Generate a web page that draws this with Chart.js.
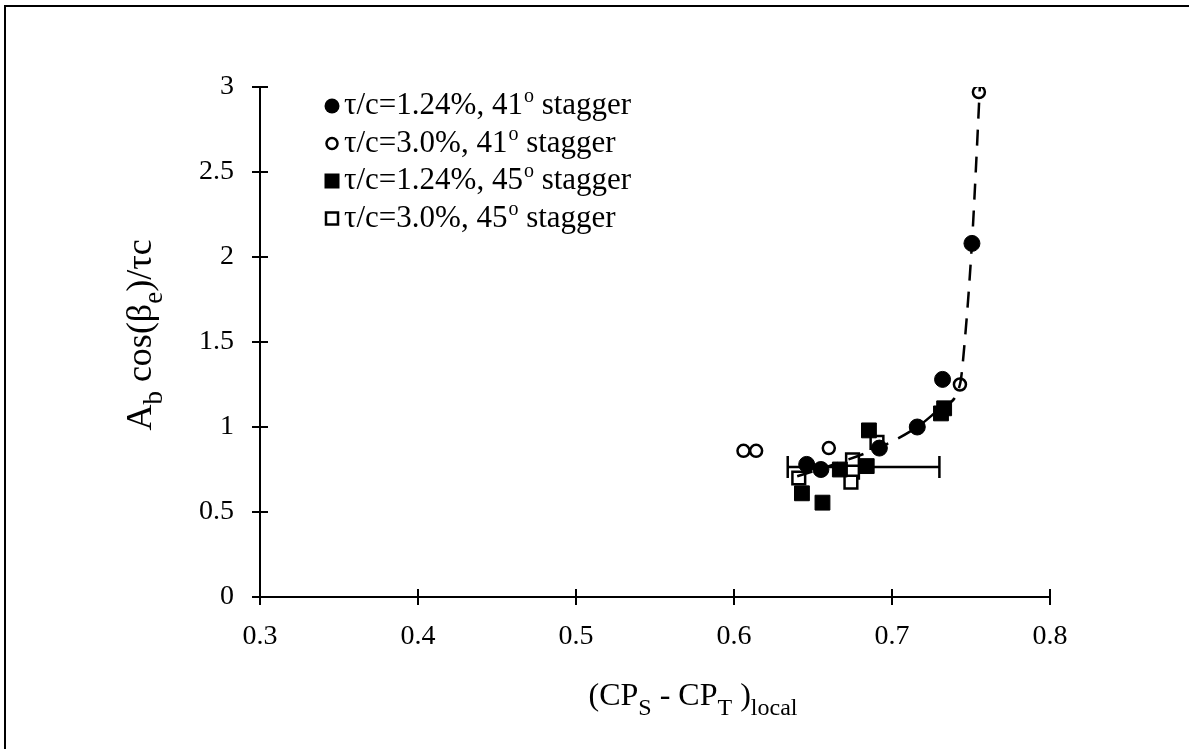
<!DOCTYPE html>
<html>
<head>
<meta charset="utf-8">
<script src="https://cdn.jsdelivr.net/npm/chart.js@4.4.0/dist/chart.umd.min.js"></script>
<style>
  html, body { margin: 0; padding: 0; background: #fff; }
</style>
</head>
<body>
<canvas id="chart" width="1189" height="749"></canvas>
<script>
const FONT = '"Liberation Serif", "Times New Roman", serif';

// tau/c = 1.24%, 41 deg stagger (filled circles)
const filled41X = [0.646, 0.655, 0.692, 0.716, 0.732, 0.7506];
const filled41Y = [0.78, 0.75, 0.876, 1.00, 1.28, 2.08];
// tau/c = 3.0%, 41 deg stagger (open circles)
const open41X = [0.606, 0.614, 0.660, 0.743, 0.755];
const open41Y = [0.86, 0.86, 0.876, 1.25, 2.97];
// tau/c = 1.24%, 45 deg stagger (filled squares)
const filled45X = [0.643, 0.656, 0.667, 0.684, 0.6854, 0.731, 0.733];
const filled45Y = [0.61, 0.555, 0.75, 0.77, 0.98, 1.08, 1.11];
// tau/c = 3.0%, 45 deg stagger (open squares)
const open45X = [0.641, 0.675, 0.675, 0.674, 0.6905];
const open45Y = [0.70, 0.806, 0.735, 0.676, 0.91];

// dashed trend curve
const trendX = [0.640, 0.660, 0.692, 0.716, 0.732, 0.743, 0.746, 0.7506, 0.753, 0.756];
const trendY = [0.71, 0.77, 0.88, 1.00, 1.12, 1.25, 1.50, 2.08, 2.50, 3.08];

// horizontal error bar: [y, xLow, xHigh]
const errorBar = [0.765, 0.634, 0.730];

const yTickLabels = ['0', '0.5', '1', '1.5', '2', '2.5', '3'];
const xTickLabels = ['0.3', '0.4', '0.5', '0.6', '0.7', '0.8'];

const legendLabels = [
  ['τ/c=1.24%, 41', 'o', ' stagger'],
  ['τ/c=3.0%, 41', 'o', ' stagger'],
  ['τ/c=1.24%, 45', 'o', ' stagger'],
  ['τ/c=3.0%, 45', 'o', ' stagger']
];

const xTitle = [['(CP', 0], ['S', 1], [' - CP', 0], ['T', 1], [' )', 0], ['local', 1]];
const yTitle = [['A', 0], ['b', 1], [' cos(β', 0], ['e', 1], [')/τc', 0]];

function pts(xs, ys) {
  return xs.map((x, i) => ({ x: x, y: ys[i] }));
}

// draw text made of normal (0) and subscript (1) runs, centred on cx
function drawRuns(ctx, runs, cx, cy, size) {
  const fontFor = k => (k === 0 ? size : Math.round(size * 0.74)) + 'px ' + FONT;
  let total = 0;
  for (const [t, k] of runs) { ctx.font = fontFor(k); total += ctx.measureText(t).width; }
  let x = cx - total / 2;
  ctx.textBaseline = 'alphabetic';
  ctx.textAlign = 'left';
  for (const [t, k] of runs) {
    ctx.font = fontFor(k);
    ctx.fillText(t, x, cy + (k === 1 ? size * 0.3 : 0));
    x += ctx.measureText(t).width;
  }
}

function drawMarker(ctx, style, x, y) {
  ctx.lineWidth = 2.5;
  ctx.strokeStyle = '#000';
  ctx.beginPath();
  if (style === 0) { ctx.arc(x, y, 7.5, 0, Math.PI * 2); ctx.fillStyle = '#000'; ctx.fill(); }
  if (style === 1) { ctx.arc(x, y, 5.5, 0, Math.PI * 2); ctx.fillStyle = '#fff'; ctx.fill(); ctx.stroke(); }
  if (style === 2) { ctx.fillStyle = '#000'; ctx.fillRect(x - 7.5, y - 7.5, 15, 15); }
  if (style === 3) { ctx.fillStyle = '#fff'; ctx.rect(x - 6, y - 6, 12, 12); ctx.fill(); ctx.stroke(); }
}

const figureDecor = {
  id: 'figureDecor',
  beforeDatasetsDraw(chart) {
    const ctx = chart.ctx;
    const xs = chart.scales.x, ys = chart.scales.y;
    const y = ys.getPixelForValue(errorBar[0]);
    const x0 = xs.getPixelForValue(errorBar[1]);
    const x1 = xs.getPixelForValue(errorBar[2]);
    ctx.save();
    ctx.strokeStyle = '#000';
    ctx.lineWidth = 2.5;
    ctx.beginPath();
    ctx.moveTo(x0, y); ctx.lineTo(x1, y);
    ctx.moveTo(x0, y - 11); ctx.lineTo(x0, y + 11);
    ctx.moveTo(x1, y - 11); ctx.lineTo(x1, y + 11);
    ctx.stroke();
    ctx.restore();
  },
  afterDraw(chart) {
    const ctx = chart.ctx;
    const xs = chart.scales.x, ys = chart.scales.y;
    const area = chart.chartArea;
    ctx.save();
    ctx.strokeStyle = '#000';
    ctx.fillStyle = '#000';

    // page frame
    ctx.lineWidth = 2;
    ctx.beginPath();
    ctx.moveTo(5, chart.height); ctx.lineTo(5, 6); ctx.lineTo(chart.width, 6);
    ctx.stroke();

    // tick marks crossing both axes
    ctx.beginPath();
    for (const t of ys.ticks) {
      const p = ys.getPixelForValue(t.value);
      ctx.moveTo(area.left - 8, p); ctx.lineTo(area.left + 8, p);
    }
    for (const t of xs.ticks) {
      const p = xs.getPixelForValue(t.value);
      ctx.moveTo(p, area.bottom - 8); ctx.lineTo(p, area.bottom + 8);
    }
    ctx.stroke();

    // legend
    legendLabels.forEach((parts, i) => {
      const ly = 106 + i * 37.5;
      drawMarker(ctx, i, 332, ly);
      ctx.fillStyle = '#000';
      ctx.font = '31px ' + FONT;
      ctx.textAlign = 'left';
      ctx.textBaseline = 'middle';
      let x = 344;
      ctx.fillText(parts[0], x, ly);
      x += ctx.measureText(parts[0]).width + 1;
      ctx.font = '20px ' + FONT;
      ctx.fillText(parts[1], x, ly - 9);
      x += ctx.measureText(parts[1]).width;
      ctx.font = '31px ' + FONT;
      ctx.fillText(parts[2], x, ly);
    });

    // axis titles
    ctx.fillStyle = '#000';
    drawRuns(ctx, xTitle, 693, 705, 32);
    ctx.translate(151, 335);
    ctx.rotate(-Math.PI / 2);
    drawRuns(ctx, yTitle, 0, 0, 36);
    ctx.restore();
  }
};

new Chart(document.getElementById('chart'), {
  type: 'scatter',
  data: {
    datasets: [
      {
        type: 'line',
        data: pts(trendX, trendY),
        borderColor: '#000',
        borderWidth: 2.5,
        borderDash: [16, 11],
        pointRadius: 0,
        cubicInterpolationMode: 'monotone',
        fill: false
      },
      {
        data: pts(filled41X, filled41Y),
        pointStyle: 'circle',
        pointRadius: 8,
        backgroundColor: '#000',
        borderColor: '#000',
        borderWidth: 1
      },
      {
        data: pts(open41X, open41Y),
        pointStyle: 'circle',
        pointRadius: 6,
        backgroundColor: '#fff',
        borderColor: '#000',
        borderWidth: 2.5
      },
      {
        data: pts(filled45X, filled45Y),
        pointStyle: 'rect',
        pointRadius: 10.5,
        backgroundColor: '#000',
        borderColor: '#000',
        borderWidth: 1
      },
      {
        data: pts(open45X, open45Y),
        pointStyle: 'rect',
        pointRadius: 9,
        backgroundColor: '#fff',
        borderColor: '#000',
        borderWidth: 2.5
      }
    ]
  },
  options: {
    responsive: false,
    animation: false,
    layout: { padding: { top: 87, right: 139, bottom: 0, left: 0 } },
    plugins: {
      legend: { display: false },
      tooltip: { enabled: false }
    },
    scales: {
      x: {
        type: 'linear',
        min: 0.3,
        max: 0.8,
        afterFit: s => { s.height = 152; },
        grid: { display: false },
        border: { display: true, color: '#000', width: 2 },
        ticks: {
          stepSize: 0.1,
          color: '#000',
          padding: 15,
          font: { family: FONT, size: 28 },
          callback: (v, i) => xTickLabels[i]
        }
      },
      y: {
        min: 0,
        max: 3,
        afterFit: s => { s.width = 260; },
        grid: { display: false },
        border: { display: true, color: '#000', width: 2 },
        ticks: {
          stepSize: 0.5,
          color: '#000',
          padding: 18,
          font: { family: FONT, size: 28 },
          callback: (v, i) => yTickLabels[i]
        }
      }
    }
  },
  plugins: [figureDecor]
});
</script>
</body>
</html>
